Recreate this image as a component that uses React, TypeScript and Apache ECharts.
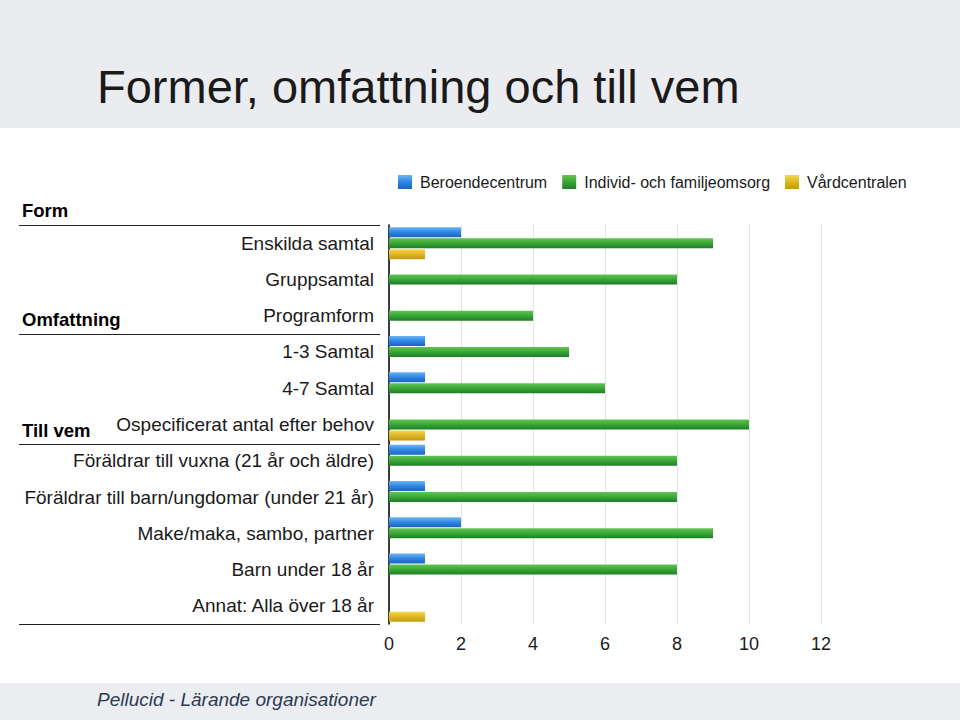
import React, { useEffect, useRef } from "react";
import * as echarts from "echarts";

const categories = [
  "Enskilda samtal",
  "Gruppsamtal",
  "Programform",
  "1-3 Samtal",
  "4-7 Samtal",
  "Ospecificerat antal efter behov",
  "Föräldrar till vuxna (21 år och äldre)",
  "Föräldrar till barn/ungdomar (under 21 år)",
  "Make/maka, sambo, partner",
  "Barn under 18 år",
  "Annat: Alla över 18 år",
];

const seriesNames = ["Beroendecentrum", "Individ- och familjeomsorg", "Vårdcentralen"];
const beroendecentrum = [2, 0, 0, 1, 1, 0, 1, 1, 2, 1, 0];
const individFamilj = [9, 8, 4, 5, 6, 10, 8, 8, 9, 8, 0];
const vardcentralen = [1, 0, 0, 0, 0, 1, 0, 0, 0, 0, 1];
const xTicks = { min: 0, max: 12, interval: 2 };

const title = "Former, omfattning och till vem";
const footer = "Pellucid - Lärande organisationer";
const groupLabels = ["Form", "Omfattning", "Till vem"];

const FONT = "'Liberation Sans', Helvetica, Arial, sans-serif";

function grad(top: string, mid: string, bottom: string) {
  return new echarts.graphic.LinearGradient(0, 0, 0, 1, [
    { offset: 0, color: top },
    { offset: 0.5, color: mid },
    { offset: 1, color: bottom },
  ]);
}

export default function App() {
  const ref = useRef<HTMLDivElement>(null);
  useEffect(() => {
    if (!ref.current) return;
    const chart = echarts.init(ref.current, null, { renderer: "svg" });
    const colors = [
      grad("#6ab4f5", "#2f86e0", "#1a64c4"),
      grad("#62c452", "#3aa638", "#1c7f26"),
      grad("#f4d84a", "#e0b525", "#c29a12"),
    ];
    const dataSets = [beroendecentrum, individFamilj, vardcentralen];
    chart.setOption({
      animation: false,
      backgroundColor: "#ffffff",
      textStyle: { fontFamily: FONT },
      graphic: [
        { type: "rect", shape: { x: 0, y: 0, width: 960, height: 128 }, style: { fill: "#ebecf0" }, silent: true },
        { type: "rect", shape: { x: 0, y: 683, width: 960, height: 37 }, style: { fill: "#ecedf0" }, silent: true },
        {
          type: "text", left: 97, top: 63,
          style: { text: title, font: `47px ${FONT}`, fill: "#1a1a1a" },
        },
        {
          type: "text", left: 97, top: 690,
          style: { text: footer, font: `italic 19px ${FONT}`, fill: "#2c3a52" },
        },
        { type: "text", left: 22, top: 201, style: { text: groupLabels[0], font: `bold 18.5px ${FONT}`, fill: "#000" } },
        { type: "text", left: 22, top: 310, style: { text: groupLabels[1], font: `bold 18.5px ${FONT}`, fill: "#000" } },
        { type: "text", left: 22, top: 421, style: { text: groupLabels[2], font: `bold 18.5px ${FONT}`, fill: "#000" } },
        { type: "line", shape: { x1: 19, y1: 225.5, x2: 380, y2: 225.5 }, style: { stroke: "#222", lineWidth: 1.2 } },
        { type: "line", shape: { x1: 19, y1: 334.5, x2: 380, y2: 334.5 }, style: { stroke: "#222", lineWidth: 1.2 } },
        { type: "line", shape: { x1: 19, y1: 444.5, x2: 380, y2: 444.5 }, style: { stroke: "#222", lineWidth: 1.2 } },
        { type: "line", shape: { x1: 19, y1: 624.5, x2: 380, y2: 624.5 }, style: { stroke: "#222", lineWidth: 1.2 } },
      ],
      legend: {
        left: 393,
        top: 169,
        icon: "rect",
        itemWidth: 14,
        itemHeight: 14,
        itemGap: 15,
        textStyle: { fontSize: 16, color: "#1a1a1a", fontFamily: FONT, padding: [0, 0, 0, 3] },
        data: seriesNames,
      },
      grid: { left: 389, right: 960 - 821, top: 225, bottom: 720 - 624, containLabel: false },
      xAxis: {
        type: "value",
        min: xTicks.min,
        max: xTicks.max,
        interval: xTicks.interval,
        axisLine: { show: false },
        axisTick: { show: false },
        axisLabel: { fontSize: 18, color: "#1a1a1a", margin: 11, fontFamily: FONT },
        splitLine: { show: true, lineStyle: { color: "#e4e4e4", width: 1 } },
      },
      yAxis: {
        type: "category",
        inverse: true,
        data: categories,
        axisLine: { show: true, lineStyle: { color: "#000", width: 1.5 } },
        axisTick: { show: false },
        axisLabel: { fontSize: 19, color: "#1a1a1a", margin: 15, fontFamily: FONT },
        splitLine: { show: false },
      },
      series: seriesNames.map((name, i) => ({
        name,
        type: "bar",
        data: dataSets[i],
        barWidth: 10,
        barGap: "10%",
        itemStyle: { color: colors[i] },
      })),
    });
    return () => chart.dispose();
  }, []);
  return <div ref={ref} style={{ position: "fixed", left: 0, top: 0, width: 960, height: 720 }} />;
}
